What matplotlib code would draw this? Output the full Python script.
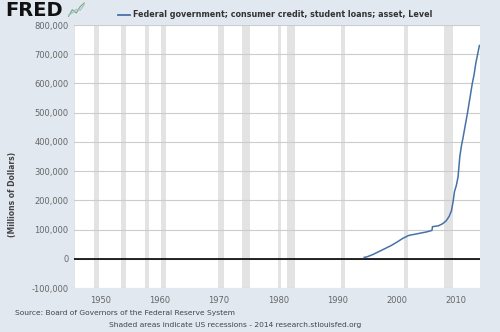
import matplotlib.pyplot as plt

# Federal government student loans, millions of dollars
years = [1994.5, 1995.0, 1996.0, 1997.0, 1998.0, 1999.0, 2000.0, 2001.0,
         2002.0, 2003.0, 2004.0, 2005.0, 2005.9, 2006.0, 2007.0, 2007.7,
         2008.3, 2008.8, 2009.2, 2009.5, 2009.7, 2010.0, 2010.3, 2010.6,
         2010.9, 2011.1, 2011.5, 2011.9, 2012.3, 2012.7, 2013.0, 2013.3,
         2013.6, 2013.9]
loans = [5000, 7000, 15000, 25000, 35000, 45000, 57000, 70000,
         80000, 84000, 88000, 92000, 97000, 110000, 113000, 120000,
         130000, 145000, 165000, 200000, 230000, 250000, 280000, 350000,
         390000, 410000, 455000, 500000, 550000, 600000, 630000, 670000,
         700000, 730000]

recessions = [(1945.1, 1945.8), (1948.9, 1949.8), (1953.5, 1954.4),
              (1957.6, 1958.3), (1960.3, 1961.1), (1969.9, 1970.9),
              (1973.9, 1975.2), (1980.0, 1980.5), (1981.5, 1982.9),
              (1990.5, 1991.2), (2001.2, 2001.9), (2007.9, 2009.5)]

bg = '#e1e8f0'
fig = plt.figure(figsize=(5, 3.32), dpi=100, facecolor=bg)
ax = fig.add_axes([0.148, 0.1325, 0.812, 0.792])
ax.set_facecolor('white')

for start, end in recessions:
    ax.axvspan(start, end, color='#e3e3e3', lw=0, zorder=1)

ax.set_xlim(1945.6, 2014)
ax.set_ylim(-100000, 800000)
ax.set_yticks(range(-100000, 800001, 100000))
ax.set_xticks(range(1950, 2011, 10))
ax.yaxis.set_major_formatter(plt.FuncFormatter(lambda v, p: f'{int(v):,}'))
ax.grid(axis='y', color='#cccccc', lw=0.8, zorder=2)
ax.axhline(0, color='black', lw=1.2, zorder=3)
ax.plot(years, loans, color='#4572a7', lw=1.1, zorder=4)

for s in ax.spines.values():
    s.set_visible(False)
ax.tick_params(axis='both', length=0, labelsize=6, colors='#666666')
ax.tick_params(axis='y', pad=4)
ax.tick_params(axis='x', pad=6)
fig.text(0.026, 0.415, '(Millions of Dollars)', fontsize=5.5, fontweight='bold',
         color='#444444', rotation=90, ha='center', va='center')

# header: logo and legend
fig.text(0.01, 0.952, 'FRED', fontsize=14, fontweight='heavy', color='#111111')
logo = fig.add_axes([0.135, 0.948, 0.035, 0.045])
logo.plot([0, 1, 2, 3, 4], [0, 1.5, 0.8, 2.2, 3], color='#7aa86a', lw=0.8)
logo.plot([0, 1, 2, 3, 4], [0.3, 0.8, 1.6, 1.4, 2.6], color='#9fbfd8', lw=0.8)
logo.axis('off')

fig.lines.append(plt.Line2D([0.236, 0.26], [0.955, 0.955], color='#4572a7',
                            lw=1.3, transform=fig.transFigure))
fig.text(0.266, 0.955, 'Federal government; consumer credit, student loans; asset, Level',
         fontsize=5.8, fontweight='bold', color='#333333', va='center')

fig.text(0.03, 0.057, 'Source: Board of Governors of the Federal Reserve System',
         fontsize=5.4, color='#444444', va='center')
fig.text(0.47, 0.02, 'Shaded areas indicate US recessions - 2014 research.stlouisfed.org',
         fontsize=5.4, color='#444444', va='center', ha='center')

fig.savefig('out.png', dpi=100, facecolor=bg)
